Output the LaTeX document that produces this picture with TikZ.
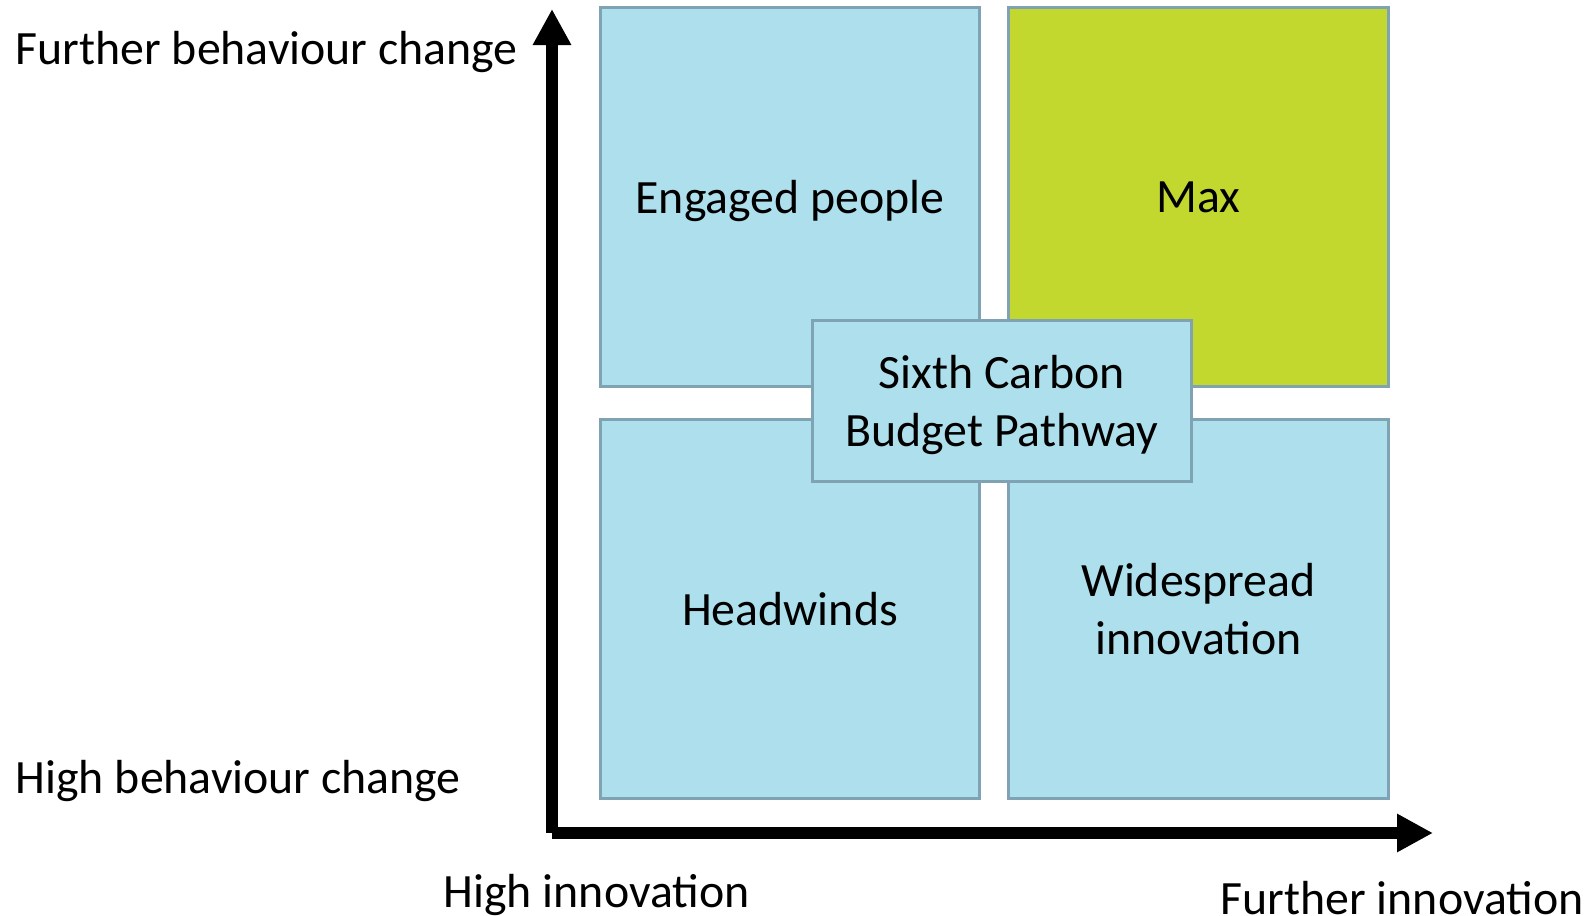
\documentclass[tikz,border=0pt]{standalone}
\usepackage{fontspec}
\setmainfont{Carlito}
\usetikzlibrary{arrows.meta}
\definecolor{quadblue}{HTML}{AEDFEC}
\definecolor{quadedge}{HTML}{7FA3B2}
\definecolor{maxgreen}{HTML}{C2D82E}
\newcommand{\labelsize}{\fontsize{13.6}{16.3}\selectfont}

\begin{document}
\begin{tikzpicture}[x=0.01cm, y=-0.01cm]
    % Define styles
    \tikzstyle{quad} = [rectangle, minimum width=3.79cm, minimum height=3.79cm, draw=quadedge, line width=0.85pt, fill=quadblue, font=\labelsize, align=center, inner sep=0pt, text depth=0pt]
    \tikzstyle{axislabel} = [anchor=base west, inner sep=0pt, font=\labelsize]
    \tikzstyle{axis} = [line width=3.4pt, -{Triangle[length=0.36cm, width=0.36cm]}]

    \useasboundingbox (0,0) rectangle (1588,916);

    % Axes
    \coordinate (origin) at (552,833);
    \coordinate (ytip) at (552,9);
    \coordinate (xtip) at (1433,833);
    \draw [axis] (origin) -- (ytip);
    \draw [axis] (origin) -- (xtip);

    % Quadrants
    \node (engaged) [quad] at (790,197) {Engaged people};
    \node (max) [quad, fill=maxgreen] at (1198.5,197) {Max};
    \node (headwinds) [quad] at (790,609) {Headwinds};
    \node (widespread) [quad] at (1198.5,609) {Widespread\\innovation};

    % Centre box on top
    \node (sixth) [quad, minimum width=3.78cm, minimum height=1.61cm] at (1002,401) {Sixth Carbon\\Budget Pathway};

    % Axis labels
    \node (ymax) [axislabel] at (15,65) {Further behaviour change};
    \node (ymin) [axislabel] at (15,793) {High behaviour change};
    \node (xmin) [axislabel] at (443,907) {High innovation};
    \node (xmax) [axislabel] at (1220,914) {Further innovation};
\end{tikzpicture}
\end{document}
